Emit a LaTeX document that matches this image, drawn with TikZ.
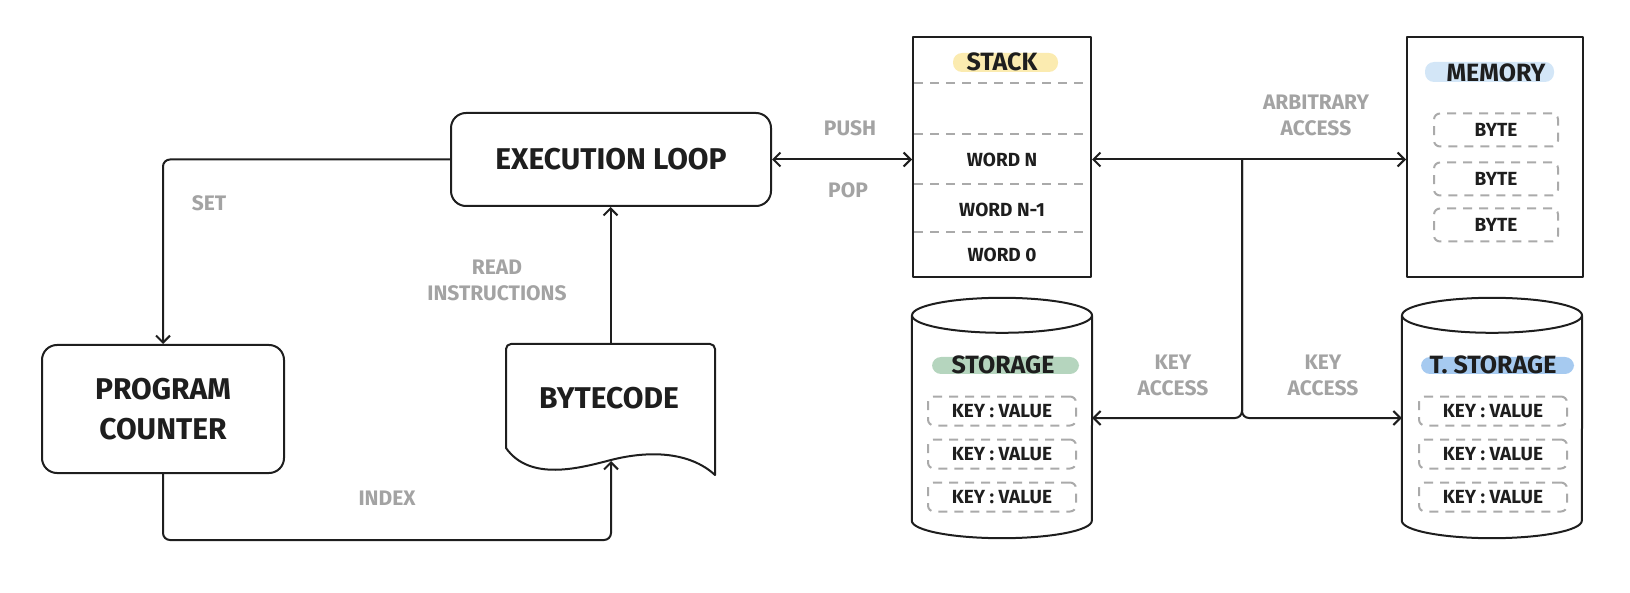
\documentclass[tikz,border=0pt]{standalone}
\usepackage{fontspec}
\setmainfont{Fira Sans}
\usetikzlibrary{arrows.meta,calc}
\definecolor{ink}{HTML}{1E1E1E}
\definecolor{lbl}{HTML}{A3A3A3}
\definecolor{dashgray}{HTML}{AAAAAA}
\definecolor{hlyellow}{HTML}{FBEBB0}
\definecolor{hlgreen}{HTML}{B5D5BE}
\definecolor{hlblue}{HTML}{D3E6F7}
\definecolor{hlbluedeep}{HTML}{A6CAF0}
\newcommand\cylout[1]{%
  \draw[thickline] ($(#1.north west)+(0,17.5)$) -- ($(#1.south west)+(0,-17.5)$)
    arc[start angle=180,end angle=0,x radius=90,y radius=17.5]
    -- ($(#1.north east)+(0,17.5)$);
  \draw[thickline] ($(#1.north)+(0,17.5)$) ellipse[x radius=90,y radius=17.5];}
\begin{document}
\begin{tikzpicture}[x=1pt,y=-1pt,color=ink,
  thickline/.style={line width=2pt,line join=round},
  rbox/.style={draw,thickline,rounded corners=15pt,inner sep=0pt},
  sbox/.style={draw,thickline,inner sep=0pt},
  ghost/.style={inner sep=0pt},
  arr/.style={thickline,-{Straight Barb[length=7pt,width=14pt,line width=2pt]}},
  dbl/.style={thickline,{Straight Barb[length=7pt,width=14pt,line width=2pt]}-{Straight Barb[length=7pt,width=14pt,line width=2pt]}},
  lab/.style={text=lbl,font=\fontsize{21}{26}\selectfont\bfseries,align=center,inner sep=0pt},
  big/.style={font=\fontsize{30}{42}\selectfont\bfseries,align=center},
  ttl/.style={font=\fontsize{25}{30}\selectfont\bfseries,inner sep=0pt},
  item/.style={font=\fontsize{19}{22}\selectfont\bfseries,inner sep=0pt},
  dbox/.style={draw=dashgray,line width=2pt,dash pattern=on 9pt off 7pt,rounded corners=6pt,
    font=\fontsize{19}{22}\selectfont\bfseries,inner sep=0pt},
  dline/.style={draw=dashgray,line width=2pt,dash pattern=on 9pt off 7pt},
  hl/.style={rounded corners=9pt}]
\useasboundingbox (0,0) rectangle (1630,593);

% main boxes
\node[rbox,big,minimum width=320,minimum height=93] (exec) at (611,159.5) {EXECUTION LOOP};
\node[rbox,big,minimum width=242,minimum height=128] (pc) at (163,409) {PROGRAM\\[-2pt]COUNTER};
\node[ghost,minimum width=209,minimum height=131] (bc) at (610.5,409.5) {};
\draw[thickline] (506,448) [rounded corners=5pt] -- (506,344) -- (715,344) [sharp corners] -- (715,475)
  .. controls (690,452) and (650,450) .. (611,460)
  .. controls (580,468) and (530,482) .. (506,448) -- cycle;
\node[big] (bctext) at (609,398) {BYTECODE};
\coordinate (bcw) at (611,461);

% stack
\node[sbox,minimum width=178,minimum height=240] (stack) at (1002,157) {};
\fill[hlyellow,hl] (953,53) rectangle (1058,72);
\node[ttl] (stt) at (1002,62) {STACK};
\foreach \yy in {83,134,184,232} \draw[dline] (914,\yy) -- (1090,\yy);
\node[item] (w1) at (1002,160) {WORD N};
\node[item] (w2) at (1002,210) {WORD N-1};
\node[item] (w3) at (1002,255) {WORD 0};

% memory
\node[sbox,minimum width=176,minimum height=240] (mem) at (1495,157) {};
\fill[hlblue,hl] (1425,62) rectangle (1554,82);
\node[ttl] (mt) at (1496,73) {MEMORY};
\node[dbox,minimum width=124,minimum height=33] (b1) at (1496,130) {BYTE};
\node[dbox,minimum width=124,minimum height=33] (b2) at (1496,179) {BYTE};
\node[dbox,minimum width=124,minimum height=33] (b3) at (1496,225) {BYTE};

% storage
\node[ghost,minimum width=180,minimum height=240] (sto) at (1002,418) {};
\cylout{sto}
\fill[hlgreen,hl] (932,357) rectangle (1079,374);
\node[ttl] (stot) at (1003,365) {STORAGE};
\node[dbox,minimum width=148,minimum height=29] (s1) at (1002,411) {KEY : VALUE};
\node[dbox,minimum width=148,minimum height=29] (s2) at (1002,454) {KEY : VALUE};
\node[dbox,minimum width=148,minimum height=29] (s3) at (1002,497) {KEY : VALUE};

% transient storage
\node[ghost,minimum width=180,minimum height=240] (tsto) at (1492,418) {};
\cylout{tsto}
\fill[hlbluedeep,hl] (1421,357) rectangle (1574,374);
\node[ttl] (tstot) at (1493,365) {T. STORAGE};
\node[dbox,minimum width=148,minimum height=29] (t1) at (1493,411) {KEY : VALUE};
\node[dbox,minimum width=148,minimum height=29] (t2) at (1493,454) {KEY : VALUE};
\node[dbox,minimum width=148,minimum height=29] (t3) at (1493,497) {KEY : VALUE};

% connectors
\draw[arr,rounded corners=7pt] (exec.west) -| (pc.north);
\draw[arr] (bc.north) -- (bc.north |- exec.south);
\coordinate (ic) at (611,540);
\draw[arr,rounded corners=7pt] (pc.south) |- (ic) -- (bcw);
\draw[dbl] (exec.east) -- (exec.east -| stack.west);
\draw[dbl] (stack.east |- exec.east) -- (mem.west |- exec.east);
\coordinate (j) at (1242,160);
\draw[arr,rounded corners=7pt] (j) |- (sto.east);
\draw[arr,rounded corners=7pt] (j) |- (tsto.west);

% labels
\node[lab] (lset) at (209,203) {SET};
\node[lab] (lread) at (497,280) {READ\\INSTRUCTIONS};
\node[lab] (lindex) at (387,498) {INDEX};
\node[lab] (lpush) at (850,128) {PUSH};
\node[lab] (lpop) at (848,190) {POP};
\node[lab] (larb) at (1316,115) {ARBITRARY\\ACCESS};
\node[lab] (lk1) at (1173,375) {KEY\\ACCESS};
\node[lab] (lk2) at (1323,375) {KEY\\ACCESS};
\end{tikzpicture}
\end{document}
